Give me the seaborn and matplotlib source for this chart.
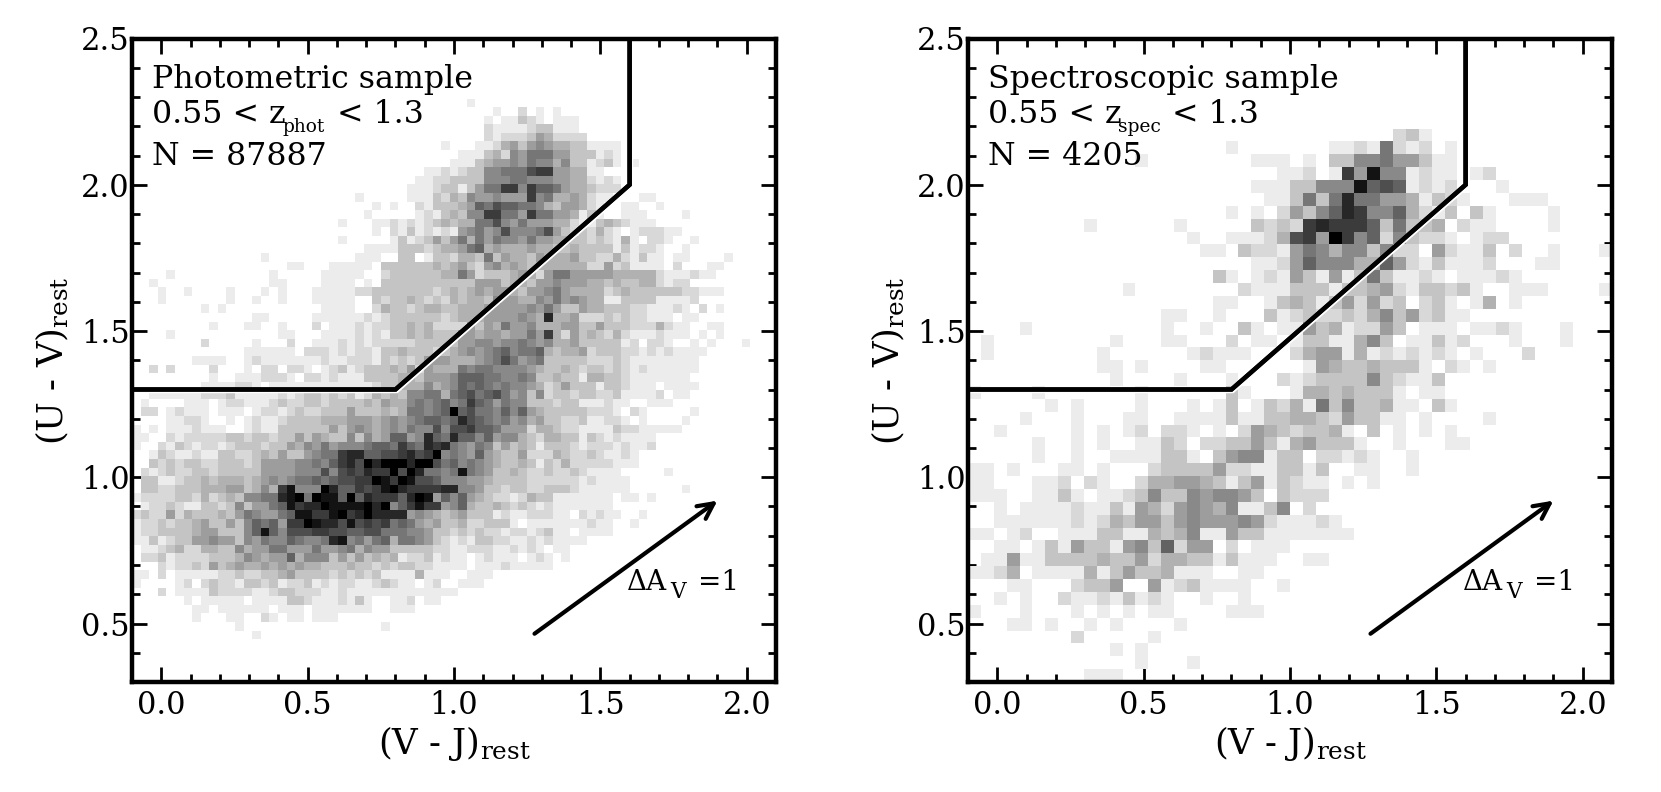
import matplotlib
matplotlib.use("Agg")
import matplotlib.pyplot as plt
import matplotlib.patheffects as pe
from matplotlib.ticker import MultipleLocator
import numpy as np
import pandas as pd
import seaborn as sns

# counts per cell, one hex digit per cell, top row first, groups of 5
phot_rows = ["", "", "", "", "", "", "",
"00000 00000 00000 00000 00000 00000 00000 00001",
"00000 00000 00000 00000 00000 00000 00000 00000 00100 20101",
"00000 00000 00000 00000 00000 00000 00000 00000 01011 32101 11000",
"00000 00000 00000 00000 00000 00000 00000 00000 02111 12331 11000",
"00000 00000 00000 00000 00000 00000 00000 00000 02122 23542 22200",
"00000 00000 00000 00000 00000 00000 00000 01000 11245 35654 43311 11000",
"00000 00000 00000 00000 00000 00000 00000 00011 13426 57775 53331 21000",
"00000 00000 00000 00000 00000 00000 00000 00111 34556 57664 63312 31010",
"00000 00000 00000 00000 00000 00000 00001 12123 36677 79aa5 54411",
"00000 00000 00000 00000 00000 00000 00011 22333 36667 76665 54421 21000",
"00000 00000 00000 00000 00000 00000 00111 23313 577aa 6a887 54432 22000",
"00000 00000 00000 00000 00000 01000 00111 32436 55655 5a674 45421 10001 10000",
"00000 00000 00000 00000 00000 00010 10021 33345 87988 77643 55421 00110 01000",
"00000 00000 00000 00000 00000 00100 00012 13436 6aa77 5a775 54131 00111 00001",
"00000 00000 00000 00000 00001 00011 21212 34344 77965 75554 42113 43211 10000",
"00000 00000 00000 00000 00000 00010 21312 12156 75696 66795 32324 21012 22110",
"00000 00000 00000 00000 00001 00000 13123 53574 75766 57554 43323 21410 22100 10000",
"00000 00000 00000 00000 00000 00111 13332 34457 84544 45443 34333 31312 21001",
"00000 00000 00000 10000 00000 01110 03301 33244 37354 43544 45332 24213 11011 00001",
"00000 00000 00000 00011 00011 11103 33333 43453 25645 43444 44422 52311 11020 00110",
"00001 00000 00000 01000 00111 11002 33333 34475 23334 54257 75555 54444 42111 21100",
"00100 00000 00000 01100 00111 10103 33333 33333 55534 43556 55544 34334 42122",
"00010 01000 01000 10100 01111 12233 33333 23434 54554 35567 54444 23433 33332 21110",
"00010 00000 01001 00100 01111 10032 33432 32434 43655 44657 56544 11333 31111 20000",
"00000 00010 10000 00000 00111 10024 33234 43344 45555 56575 33544 33322 11121 02010",
"00000 00000 00001 10000 01111 11212 33333 32344 45555 654b4 45222 32322 11101 10000",
"00000 00001 00011 00100 02011 12122 33434 22225 35475 56444 55335 33322 24211 00110",
"00001 00000 00000 00110 00111 12121 33434 33355 45545 575a4 25343 24211 12111 01010",
"00000 00020 00001 00020 01112 12122 22233 33355 66566 76564 45333 33120 22100 10100 01000",
"00000 00000 00011 11110 22212 12213 34333 23456 56786 77843 44523 33221 21211 11000",
"00000 00111 10012 11111 11211 22213 23235 55444 56797 56733 33322 23211 11111 10000",
"00202 00002 00010 22022 10123 12333 43525 44476 77666 65433 43233 23212 11111 10000",
"00000 00001 00111 22210 22121 11333 34435 55688 87766 76334 33144 33211 11111",
"00000 00011 11221 01111 11111 11123 34446 45687 87676 65423 53331 33211 10111 10000",
"00111 11122 23111 11212 33232 31243 43667 74789 78975 63623 32332 23111 12011",
"01000 01110 12211 12322 33233 33435 44676 7867a 87576 63332 33111 21100 11100",
"02201 21110 11101 22123 22333 53334 34776 78e89 77686 85433 33322 21021 00000 10000",
"00001 12210 01012 11233 33444 55545 65678 878b9 87675 64533 22311 22101 00001",
"10101 11211 10012 11333 33353 56545 65766 9699a 88755 52443 22111 13221 11110",
"11002 12222 23323 32335 35433 63645 8856b 87b88 68566 43244 33132 12111 10000",
"10021 32122 12333 23354 65756 66788 7a87b ab765 76353 43133 32122 21211 20000",
"00132 11211 33223 43533 5677a bb889 9ab9a f6765 85433 52224 32232 11210",
"00323 23322 33323 55556 6768a b9ebf eebdf 97867 65433 43132 42222 21110",
"02123 22332 33333 55556 66969 a9baa f9eb7 767c7 65334 32232 23211 11000 00100",
"03311 23343 44434 56567 78789 9aafc afc99 86665 54333 32222 22121 11100",
"03322 33344 45534 64ac6 66db8 8a9ac ebaaa abb66 53323 32233 32111 11100 00001",
"12222 33242 34366 77bcf 7dcc8 f8baa a8bdc 58685 43221 24331 11111 10110 10000",
"01223 21133 23635 578ca bbfcc ccdbf 68aca a5684 33432 32121 11111 10000",
"23225 24333 43576 5578c caacf abfbb bb565 43453 33121 12221 10212 11001",
"12232 33453 35368 785aa dcbb9 c9a9a 78754 53342 23331 01111 11121 10010",
"12233 33455 33368 c8699 9aa99 88997 77665 33232 32212 21231 10111 10000",
"11312 33556 55365 76687 667bc 67578 47765 32121 33221 12121 11100",
"01123 42244 33645 57755 57556 74655 33333 22112 22112 12101 10000",
"02231 22223 33465 45584 66635 35343 41223 12110 12111 01210 10000",
"00021 22325 34544 54545 44333 43323 23322 11110 11121 11110",
"11020 11111 22322 33453 33323 23231 11141 11001 11000",
"10000 12023 22133 23122 31212 21123 21101 20011 10000",
"00020 11113 22221 12332 22112 11111 11111 11100",
"00000 01011 11101 11133 21112 13100 11201 10000",
"00000 00110 11111 10111 01111 11100 11100",
"00000 00100 01100 21011 01110",
"00000 00000 00100 00000 00000 00001",
"00000 00000 00001",
]

spec_rows = ["", "", "", "", "", "", "",
"00000 00000 00000 00000 00000 00000 00023 1",
"00000 00000 00000 00000 10000 00011 21721 20100",
"00000 00000 00010 00000 00111 01033 66755 31100",
"00000 00000 00000 00000 00001 1201a 5c661 21101 20000",
"00000 00000 00000 00000 00111 33666 c8981 21200 01000",
"00000 00000 00000 00000 00011 3737b 77554 13210 00111",
"00000 00000 00000 00000 10102 5368b a6684 21303 10000 1",
"00000 00001 00000 01000 00323 2abaa a8373 34021 10000 1",
"00000 00000 00000 00100 11124 9a5da 68263 22101 22000",
"00000 00000 00000 00011 03221 57646 63622 05211 30200 10001",
"00000 00000 00000 00000 00112 58666 44852 13111 20001 1",
"00000 00000 00000 00003 10121 53151 37311 21011 12100",
"00000 00000 00100 00000 02111 33313 34521 33231 00111 00001",
"00000 00000 00000 00001 10013 43135 25230 23101 40100",
"00000 00000 00000 11001 00031 23223 24635 23110",
"00001 00000 00000 10010 03101 15341 22530 11101 12100 01",
"01000 00000 01000 11000 20110 13311 46301 13120 00100 01",
"01000 00000 10000 00121 11000 24551 41212 12101 00020",
"00000 00000 11010 00011 00000 01543 34333 10210 10000",
"00000 00000 01000 01000 10002 12333 36321 13000",
"10000 10000 00010 00000 31000 14434 33310 11000",
"00000 01010 00010 00101 30132 41736 33411 03100",
"00001 00010 00110 01111 31133 44325 33110 10000 10000",
"00100 00010 10120 22101 02543 23341 03010 10100",
"00000 10010 10011 32022 33531 45333 10010 00110",
"00000 10010 01111 33103 56613 30221 21001",
"11010 00110 10002 33335 22113 31300 11001",
"11000 11202 10024 45543 13513 21101 01000",
"11100 11310 11236 33656 65303 22200",
"00101 11121 13154 25654 61136 02000",
"00111 11121 24355 35655 56521 11210",
"11012 00111 33114 34611 53311 11111",
"00110 13153 31563 82550 20111",
"01151 13333 43352 44331 31110 01100",
"11240 11114 13533 41110 01100",
"00011 00023 35005 12311 11001",
"00101 00211 21312 10010 01000",
"10001 00010 10101 10000 11100",
"00011 01001 01000 01000",
"00000 00020 00001",
"00000 00000 01010",
"00000 00000 00010 00100",
"00000 00001 11000",
]

titles = ["Photometric sample", "Spectroscopic sample"]
z_subs = ["phot", "spec"]
n_labels = ["N = 87887", "N = 4205"]

sns.set_style("ticks")
plt.rcParams["font.family"] = "DejaVu Serif"
plt.rcParams["mathtext.fontset"] = "dejavuserif"
plt.rcParams["text.color"] = "black"
plt.rcParams["axes.labelcolor"] = "black"
plt.rcParams["axes.edgecolor"] = "black"
plt.rcParams["xtick.color"] = "black"
plt.rcParams["ytick.color"] = "black"


def to_frame(rows, n):
    # one line per cell: bin centre and the count
    counts = [[int(c, 16) for c in r.replace(" ", "").ljust(n, "0")] for r in rows]
    counts += [[0] * n] * (n - len(counts))
    counts = np.array(counts)
    xe = np.linspace(-0.1, 2.1, n + 1)
    ye = np.linspace(2.5, 0.3, n + 1)
    xc = (xe[:-1] + xe[1:]) / 2
    yc = (ye[:-1] + ye[1:]) / 2
    xx, yy = np.meshgrid(xc, yc)
    return pd.DataFrame({"x": xx.ravel(), "y": yy.ravel(), "w": counts.ravel()}), xe, ye[::-1]


fig = plt.figure(figsize=(16.61, 7.92), dpi=100)
ax1 = fig.add_axes([132 / 1661, 1 - 682 / 792, 644 / 1661, 643.5 / 792])
ax2 = fig.add_axes([968 / 1661, 1 - 682 / 792, 644 / 1661, 643.5 / 792])

for k, (ax, rows, n) in enumerate([(ax1, phot_rows, 75), (ax2, spec_rows, 50)]):
    df, xe, ye = to_frame(rows, n)
    sns.histplot(data=df, x="x", y="y", weights="w", bins=[xe, ye], cmap="gray_r",
                 vmin=0, vmax=13, ax=ax)
    ax.plot([-0.1, 0.8, 1.6, 1.6], [1.3, 1.3, 2.0, 2.5], color="black", lw=3.2,
            solid_joinstyle="miter", zorder=5,
            path_effects=[pe.withStroke(linewidth=3.6, foreground="white", offset=(0.8, -0.9)),
                          pe.Normal()])
    ax.annotate("", xy=(1.9, 0.92), xytext=(1.275, 0.465),
                arrowprops=dict(arrowstyle="->", color="black", lw=3, mutation_scale=28,
                                shrinkA=0, shrinkB=0), zorder=6)
    # extinction label, the subscript is smaller and lower than mathtext would put it
    ax.text(1.592, 0.615, "\u0394A", fontsize=20, zorder=6)
    ax.text(1.739, 0.587, "V", fontsize=15.5, zorder=6)
    ax.text(1.832, 0.615, "=1", fontsize=20, zorder=6)
    ax.text(-0.03, 2.33, titles[k], fontsize=22.8, zorder=6)
    ax.text(-0.03, 2.2125, "0.55 < z", fontsize=22.8, zorder=6)
    ax.text(0.414, 2.181, z_subs[k], fontsize=13.4, zorder=6)
    ax.text(0.6 if k == 0 else 0.597, 2.2125, "< 1.3", fontsize=22.8, zorder=6)
    ax.text(-0.03, 2.0675, n_labels[k], fontsize=22.8, zorder=6)

    ax.set_xlim(-0.1, 2.1)
    ax.set_ylim(0.3, 2.5)
    ax.xaxis.set_major_locator(MultipleLocator(0.5))
    ax.xaxis.set_minor_locator(MultipleLocator(0.1))
    ax.yaxis.set_major_locator(MultipleLocator(0.5))
    ax.yaxis.set_minor_locator(MultipleLocator(0.1))
    ax.tick_params(which="major", direction="in", length=11, width=2, top=True, right=True,
                   labelsize=22)
    ax.tick_params(axis="x", which="major", pad=6)
    ax.tick_params(axis="y", which="major", pad=1.5)
    ax.tick_params(which="minor", direction="in", length=6, width=2, top=True, right=True)
    for s in ax.spines.values():
        s.set_linewidth(3.2)
        s.set_zorder(10)
    ax.set_xlabel(r"(V - J)$_{\rm rest}$", fontsize=25.5, labelpad=2)
    ax.set_ylabel(r"(U - V)$_{\rm rest}$", fontsize=25.5, labelpad=7)

fig.savefig("out.png", dpi=100)
